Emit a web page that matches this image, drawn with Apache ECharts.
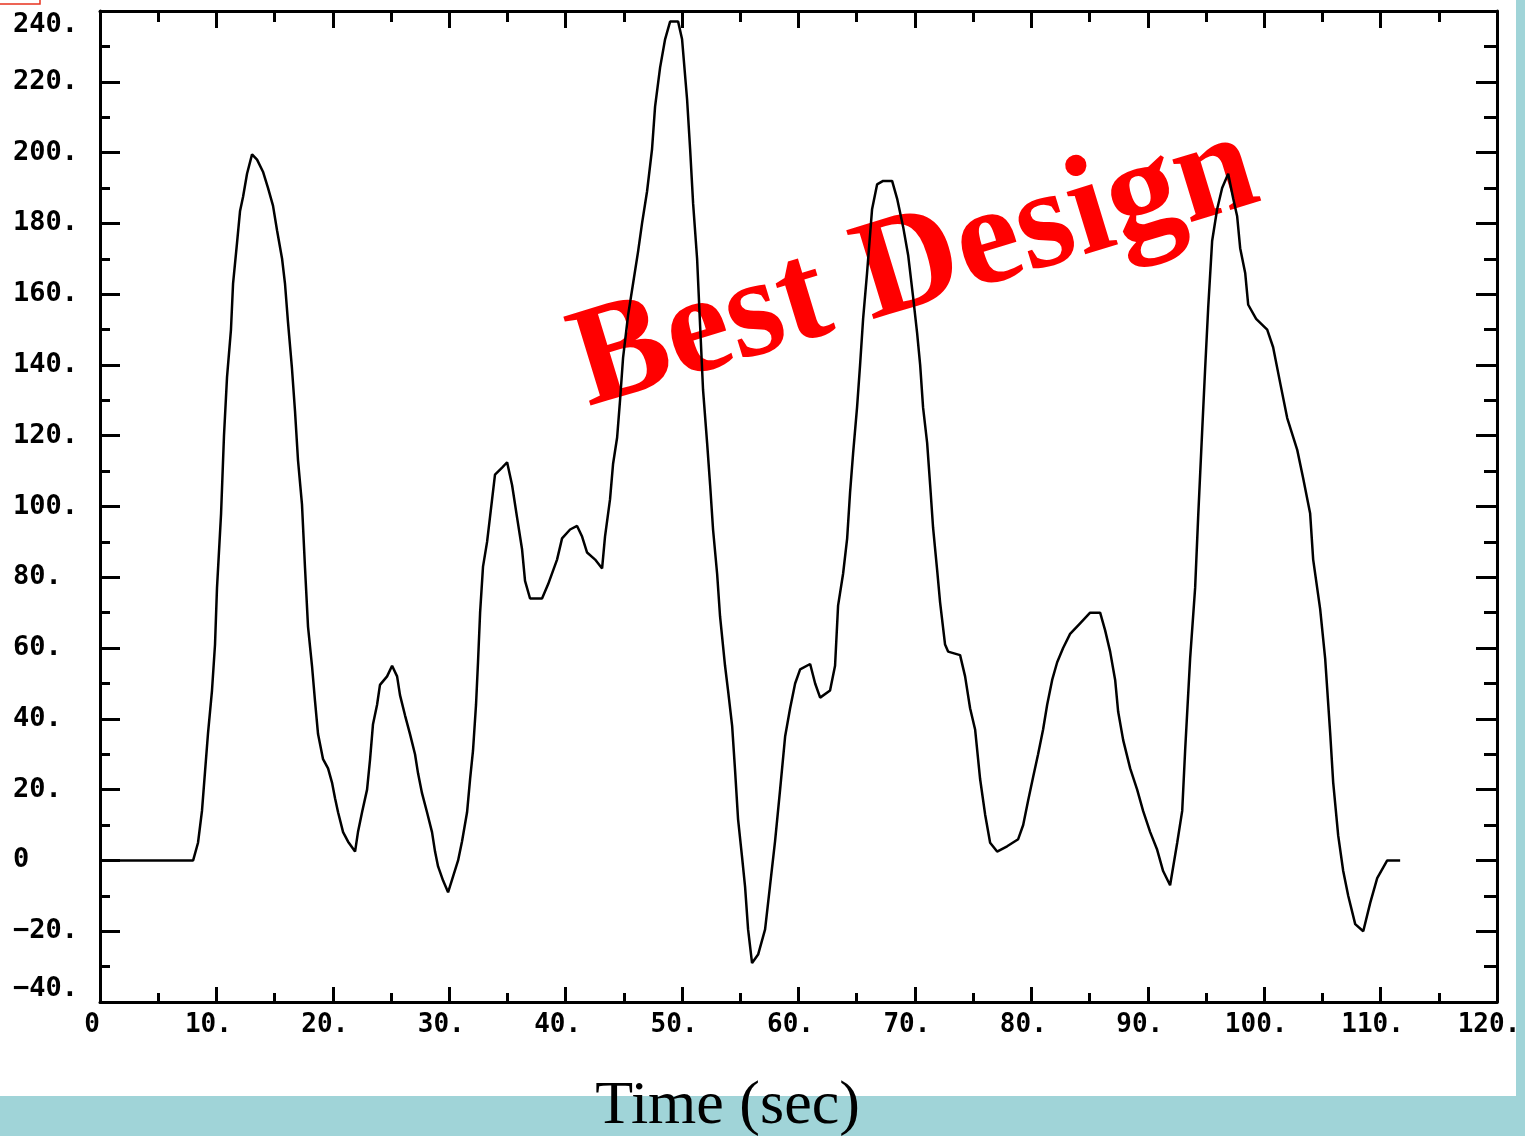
<!DOCTYPE html>
<html>
<head>
<meta charset="utf-8">
<title>Time (sec)</title>
<script src="https://cdn.jsdelivr.net/npm/echarts@6/dist/echarts.min.js"></script>
<style>
  html, body { margin: 0; padding: 0; background: #ffffff; }
  #chart { width: 1525px; height: 1136px; }
</style>
</head>
<body>
<div id="chart"></div>
<script>
// Time axis samples (seconds)
const timeSec = [
  0, 8.0, 8.42, 8.76, 9.02, 9.28, 9.62, 9.88, 10.05, 10.40, 10.65, 10.91, 11.25, 11.43, 11.77,
  12.03, 12.29, 12.63, 13.06, 13.49, 14.00, 14.43, 14.86, 15.21, 15.64, 15.89, 16.15, 16.49,
  16.75, 17.01, 17.35, 17.61, 17.87, 18.21, 18.47, 18.73, 19.16, 19.59, 19.93, 20.19, 20.45,
  20.88, 21.31, 21.91, 22.16, 22.51, 22.94, 23.20, 23.45, 23.80, 24.05, 24.66, 25.09, 25.52,
  25.77, 26.20, 26.63, 27.06, 27.32, 27.66, 28.09, 28.52, 28.78, 29.04, 29.47, 29.90, 30.33,
  30.76, 31.10, 31.53, 31.79, 32.04, 32.30, 32.47, 32.65, 32.90, 33.25, 33.68, 33.93, 34.54,
  34.97, 35.40, 35.82, 36.25, 36.51, 36.94, 37.97, 38.49, 39.26, 39.69, 40.38, 40.98, 41.41,
  41.84, 42.53, 43.13, 43.38, 43.81, 44.07, 44.42, 44.67, 44.93, 45.36, 45.79, 46.22, 46.56,
  46.99, 47.42, 47.68, 48.11, 48.54, 48.97, 49.66, 50.00, 50.43, 50.69, 50.95, 51.29, 51.55,
  51.80, 52.15, 52.41, 52.66, 53.01, 53.26, 53.69, 53.95, 54.30, 54.55, 54.81, 55.15, 55.41,
  55.67, 56.01, 56.53, 57.13, 57.56, 57.99, 58.42, 58.85, 59.28, 59.71, 60.14, 61.00, 61.43,
  61.86, 62.71, 63.14, 63.40, 63.83, 64.18, 64.43, 64.69, 65.03, 65.29, 65.55, 65.89, 66.32,
  66.75, 67.27, 68.04, 68.47, 68.99, 69.42, 69.85, 70.19, 70.45, 70.70, 71.05, 71.31, 71.56,
  71.91, 72.16, 72.59, 72.85, 73.88, 74.31, 74.74, 75.17, 75.60, 76.03, 76.46, 77.06, 77.92,
  78.87, 79.30, 79.73, 80.15, 80.58, 81.01, 81.36, 81.79, 82.22, 82.73, 83.33, 84.19, 85.05,
  85.91, 86.34, 86.77, 87.20, 87.46, 87.89, 88.49, 89.09, 89.60, 90.21, 90.81, 91.32, 91.92,
  92.53, 92.96, 93.21, 93.64, 94.07, 94.33, 94.67, 94.93, 95.19, 95.53, 95.96, 96.39, 96.91,
  97.34, 97.68, 97.94, 98.37, 98.63, 99.31, 100.26, 100.77, 101.37, 101.98, 102.84, 103.35,
  103.95, 104.21, 104.81, 105.24, 105.67, 105.93, 106.36, 106.79, 107.22, 107.82, 108.51,
  109.11, 109.71, 110.57, 111.68
];

// Response values at each sample
const response = [
  0, 0, 5, 14, 25, 36, 48, 61, 77, 98, 120, 136.5, 150, 163, 174.5,
  183.5, 187.5, 194, 199.5, 198, 194.6, 190, 185, 178, 170, 163, 152, 139,
  127, 113, 100.6, 82.7, 66, 55, 45, 35.7, 28.6, 26, 22, 17.6, 13.6,
  8, 5.3, 2.5, 8, 13.6, 20, 28.6, 38.5, 44, 49.6, 52, 55, 52,
  46.7, 41, 35.7, 30, 24.6, 19, 13.6, 8, 2.5, -1.7, -5.7, -9, -4.5,
  0, 5.4, 13.6, 23, 31, 44, 56, 70, 83, 90, 102, 109, 111,
  112.5, 106, 97, 88, 79, 74, 74, 78, 85, 91, 93.5, 94.5, 91.5,
  87, 85, 82.5, 91.5, 102, 112, 119.5, 130, 142, 154, 163, 172, 180,
  189, 201, 213, 224, 232, 237, 237, 232, 215, 201, 185.5, 170, 151,
  133, 118, 106, 93.5, 81, 69, 55, 48, 38, 25.5, 11.6, 1, -7.4,
  -19.5, -29, -26.6, -19.5, -7, 5.5, 20, 35, 43, 50, 54, 55.5, 50,
  46, 48, 55, 72, 81, 91, 104, 115, 128, 140, 153, 166, 184,
  191, 192, 192, 187, 179, 171, 159, 149, 140, 128, 118, 106, 94,
  82, 73, 61, 59, 58, 52, 43, 37, 23, 13, 5, 2.5, 4,
  6, 10, 17, 23.5, 30, 37, 44, 51, 56, 60, 64, 67, 70,
  70, 65, 59, 51, 42, 34, 26, 20, 14, 8, 3, -3, -7,
  5, 14, 31, 57, 77, 97, 121, 139, 156, 175, 184, 190, 194,
  187, 182, 173, 166, 157, 153, 150, 145, 135, 125, 116, 108,
  98, 85, 71, 57, 36, 22, 7, -3, -10, -18, -20,
  -12, -5, 0, 0
];

// Axis ranges and tick steps
const xRange = [0, 120];
const xStep = 10;
const yRange = [-40, 240];
const yStep = 20;

const xAxisTitle = 'Time (sec)';
const stampText = 'Best Design';

const seriesData = timeSec.map((t, i) => [t, response[i]]);

const tickFont = '"DejaVu Sans Mono", "Liberation Mono", monospace';

function tickText(v) {
  if (v === 0) return '0';
  return (v < 0 ? '\u2212' + Math.abs(v) : String(v)) + '.';
}

const frameLine = { show: true, onZero: false, lineStyle: { color: '#000', width: 3 } };

const chart = echarts.init(document.getElementById('chart'), null, { renderer: 'canvas' });

chart.setOption({
  animation: false,
  backgroundColor: '#ffffff',
  grid: {
    left: 100, top: 11, right: 28, bottom: 134,
    containLabel: false, outerBoundsMode: 'none'
  },
  xAxis: [
    {
      type: 'value', position: 'bottom',
      min: xRange[0], max: xRange[1], interval: xStep,
      axisLine: frameLine,
      axisTick: { show: true, inside: true, length: 15, lineStyle: { color: '#000', width: 3 } },
      minorTick: { show: true, splitNumber: 2, length: 9, lineStyle: { color: '#000', width: 3 } },
      splitLine: { show: false },
      axisLabel: {
        show: true, margin: 10, color: '#000', fontFamily: tickFont, fontSize: 26, fontWeight: 'bold',
        padding: [0, 16, 0, 0], formatter: tickText
      },
      name: xAxisTitle, nameLocation: 'middle', nameGap: 74,
      nameTextStyle: {
        fontFamily: '"Liberation Serif", "Times New Roman", serif', fontSize: 62, color: '#000',
        padding: [0, 142, 0, 0]
      }
    },
    {
      type: 'value', position: 'top',
      min: xRange[0], max: xRange[1], interval: xStep,
      axisLine: frameLine,
      axisTick: { show: true, inside: true, length: 17, lineStyle: { color: '#000', width: 3 } },
      minorTick: { show: true, splitNumber: 2, length: 11, lineStyle: { color: '#000', width: 3 } },
      splitLine: { show: false },
      axisLabel: { show: false }
    }
  ],
  yAxis: [
    {
      type: 'value', position: 'left',
      min: yRange[0], max: yRange[1], interval: yStep,
      axisLine: frameLine,
      axisTick: { show: true, inside: true, length: 20, lineStyle: { color: '#000', width: 3 } },
      minorTick: { show: true, splitNumber: 2, length: 10, lineStyle: { color: '#000', width: 3 } },
      splitLine: { show: false },
      axisLabel: {
        show: true, align: 'left', margin: 87, color: '#000', fontFamily: tickFont, fontSize: 27,
        fontWeight: 'bold',
        verticalAlignMaxLabel: 'top', verticalAlignMinLabel: 'bottom',
        formatter: tickText
      }
    },
    {
      type: 'value', position: 'right',
      min: yRange[0], max: yRange[1], interval: yStep,
      axisLine: frameLine,
      axisTick: { show: true, inside: true, length: 21, lineStyle: { color: '#000', width: 3 } },
      minorTick: { show: true, splitNumber: 2, length: 13, lineStyle: { color: '#000', width: 3 } },
      splitLine: { show: false },
      axisLabel: { show: false }
    }
  ],
  graphic: [
    // page border strips
    { type: 'rect', z: 0, silent: true, shape: { x: 0, y: 1096, width: 1525, height: 40 },
      style: { fill: '#a0d4d8' } },
    { type: 'rect', z: 0, silent: true, shape: { x: 1516, y: 0, width: 9, height: 1136 },
      style: { fill: '#a0d4d8' } },
    // small marker box in the top-left corner
    { type: 'rect', z: 0, silent: true, shape: { x: -4, y: -20, width: 44, height: 24 },
      style: { fill: 'none', stroke: '#e8321e', lineWidth: 1.5 } },
    // stamp across the plot
    { type: 'text', z: 1, silent: true, x: 915, y: 268, rotation: 17.0 * Math.PI / 180,
      style: {
        text: stampText, fill: '#ff0000', align: 'center', verticalAlign: 'middle',
        font: 'bold 142px "Liberation Serif", "Times New Roman", serif'
      } }
  ],
  series: [
    {
      type: 'line', xAxisIndex: 0, yAxisIndex: 0, z: 5,
      data: seriesData, showSymbol: false, symbol: 'none', smooth: false,
      lineStyle: { color: '#000', width: 2.5 }
    }
  ]
});
</script>
</body>
</html>
